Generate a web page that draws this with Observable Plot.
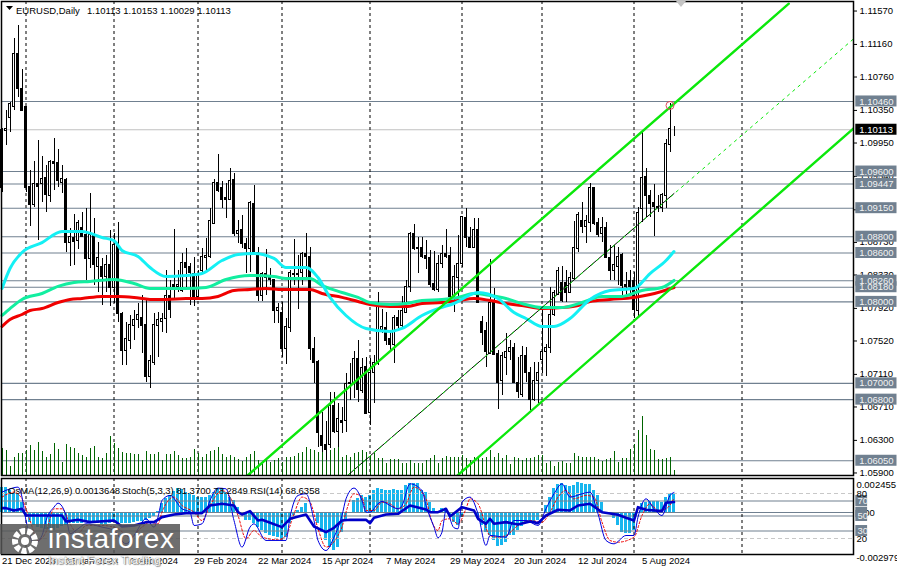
<!DOCTYPE html>
<html><head><meta charset="utf-8">
<script src="https://cdn.jsdelivr.net/npm/d3@7"></script>
<script src="https://cdn.jsdelivr.net/npm/@observablehq/plot@0.6"></script>
<style>
html,body{margin:0;padding:0;background:#fff}
#page{position:relative;width:897px;height:569px;overflow:hidden;font-family:"Liberation Sans",sans-serif;font-size:9.5px;color:#000}
#page svg{display:block;background:transparent;overflow:visible}
.t{position:absolute;white-space:pre;line-height:11px}
#wm{position:absolute;left:0;top:524px;width:180px;height:30px;background:rgba(85,85,85,.85)}
#wmt{position:absolute;left:48px;top:524px;font:28px/30px "Liberation Sans",sans-serif;color:#fff;letter-spacing:.5px}
#wms{position:absolute;left:48px;top:554px;font:11.5px/12px "Liberation Sans",sans-serif;color:#fff;text-shadow:0 0 1px #555,1px 1px 1px #888;letter-spacing:.2px}
#shift{position:absolute;left:676px;top:1px;width:0;height:0;border-left:5px solid transparent;border-right:5px solid transparent;border-top:6px solid #c4c4c4}
</style></head><body>
<div id="page"></div>
<script>
// prices are quoted in 1/10000 units (10939.2 = 1.09392)
const opens = [10939.2,11009.2,11026.3,11039.8,11104.8,11061.9,11038.6,10941.6,10919.5,10945.3,
10945.3,10951.5,10929.4,10972.3,10971,10946.5,10949,10872.8,10879,10875.3,
10891.3,10881.5,10852.1,10881.5,10843.4,10843.4,10831.1,10844.7,10816.5,10869.2,
10785.7,10740.3,10752.6,10769.8,10777.2,10780.8,10771.1,10707.2,10724.4,10769.8,
10774.7,10778.4,10806.7,10820.2,10817.7,10812.8,10848.3,10843.4,10834.8,10805.5,
10837.3,10853.3,10854.5,10896.2,10946.5,10939.2,10926.9,10925.6,10949,10883.9,
10888.8,10871.6,10864.3,10920.7,10860.6,10806.7,10834.8,10829.9,10826.3,10788.2,
10786.9,10741.6,10767.4,10833.6,10833.6,10836,10858.2,10854.5,10741.6,10725.6,
10635,10623.8,10623.8,10671.6,10639.7,10654.4,10653.2,10701,10699.8,10729.3,
10690.1,10719.5,10664.2,10712.1,10723.2,10764.9,10767.4,10753.9,10746.5,10780.8,
10769.8,10786.9,10817.7,10883.9,10866.7,10866.7,10855.8,10853.3,10821.4,10814,
10846,10858.2,10855.8,10804.2,10829.9,10847,10902.4,10879,10866.7,10888.8,
10774.7,10763.7,10736.6,10799.2,10736.6,10702.3,10731.7,10737.9,10742.8,10701,
10685.2,10733,10713.3,10679,10702.3,10728.1,10737.9,10744,10783.3,10809,
10822.6,10822.6,10811.5,10828.7,10865.5,10898.7,10892.5,10897.4,10939.2,10897.4,
10883.9,10890.1,10853.3,10838.5,10843.4,10857,10820.2,10825.1,10825.1,10789.4,
10914.6,10952.7,10929.4,10921.9,10917,10915.8,10929.4,10992,11011.3];
const highs = [11012.8,11034.9,11044.7,11123.3,11139.3,11085.3,11038.6,10961.3,10972.3,10998.1,
10978.4,10967.4,10973.5,11000.6,10987,10967.4,10951.5,10890.1,10907.3,10899.9,
10909.7,10914.6,10933,10902.4,10872.8,10853.3,10857,10887.6,10883.9,10897.4,
10786.9,10774.7,10783.3,10789.4,10798,10807.9,10803,10734.2,10785.7,10786.9,
10785.7,10838.5,10826.3,10888.8,10838.5,10859.4,10865.5,10847,10854.5,10838.5,
10865.5,10877.8,10914.6,10950.3,10981,10947.8,10945.3,10963.7,10957.6,10899.9,
10906.1,10877.8,10923.2,10942.9,10866.7,10836,10864.3,10841,10827.5,10798,
10799.2,10779.6,10838.5,10876.6,10857,10860.6,10883.9,10866.7,10756.4,10728.1,
10664.2,10653.2,10688.8,10688.8,10675.3,10670.4,10712.1,10724.4,10739.1,10752.6,
10730.6,10731.7,10730.6,10734.2,10811.5,10790.6,10786.9,10764.9,10783.3,10789.4,
10806.7,10826.3,10885.2,10895,10879,10879,10875.3,10863.1,10861.8,10857,
10869.2,10888.8,10866.7,10844.7,10881.5,10904.8,10914.6,10891.3,10902.4,10902.4,
10782.1,10774.7,10852.1,10816.5,10740.3,10737.9,10761.2,10752.6,10748.9,10731.7,
10745.2,10744,10719.5,10725.6,10725.6,10793.1,10747.7,10817.7,10814,10842.2,
10843.4,10838.5,10836,10898.7,10909.7,10921.9,10906.1,10945.3,10940.4,10902.4,
10903.6,10897.4,10869.2,10869.2,10866.7,10859.4,10836,10838.5,10836,10915.8,
11007.9,10963.7,10936.7,10944.1,10930.6,10933,10999.3,11043.5,11015.3];
const lows = [10934.2,10992,11007.9,11034.9,11050.8,11033.7,10934.2,10892.5,10915.8,10875.3,
10921.9,10909.7,10921.9,10936.7,10940.4,10933,10860.6,10843.4,10844.7,10864.3,
10879,10826.3,10841,10820.2,10811.5,10795.6,10811.5,10794.3,10798,10774.7,
10722,10722,10741.6,10752.6,10767.4,10736.6,10701,10693.7,10722,10731.7,
10762.4,10761.2,10779.6,10801.7,10811.5,10811.5,10814,10795.6,10794.3,10801.7,
10836,10836,10853.3,10896.2,10934.2,10914.6,10902.4,10925.6,10880.2,10871.6,
10865.5,10834.8,10836,10860.6,10800.5,10800.5,10807.9,10820.2,10773.5,10773.5,
10731.7,10723.2,10762.4,10820.2,10790.6,10820.2,10828.7,10728.1,10699.8,10621.3,
10615.1,10605.3,10620,10638.5,10621.3,10638.5,10639.7,10679,10681.4,10676.5,
10687.6,10663,10648.3,10675.3,10722,10761.2,10746.5,10740.3,10724.4,10764.9,
10767.4,10785.7,10811.5,10863.1,10834.8,10853.3,10839.7,10817.7,10812.8,10811.5,
10841,10853.3,10801.7,10786.9,10804.2,10842.2,10866.7,10866.7,10865.5,10798,
10746.5,10719.5,10735.4,10734.2,10667.9,10685.2,10709.7,10728.1,10699.8,10681.4,
10682.6,10701,10666.7,10677.8,10675.3,10712.1,10708.4,10736.6,10782.1,10807.9,
10799.2,10799.2,10810.3,10827.5,10860.6,10883.9,10871.6,10885.2,10893.8,10879,
10872.8,10853.3,10826.3,10826.3,10820.2,10807.9,10805.5,10810.3,10779.6,10780.8,
10897.4,10903.6,10903.6,10880.2,10909.7,10909.7,10914.6,10983.4,11002.9];
const closes = [11010.4,11011.6,11042.3,11104.8,11060.7,11034.9,10939.2,10919.5,10944.1,10940.4,
10950.3,10930.6,10972.3,10969.8,10947.8,10950.3,10872.8,10880.2,10874.1,10897.4,
10880.2,10852.1,10881.5,10844.7,10853.3,10831.1,10844.7,10816.5,10870.4,10785.7,
10740.3,10753.9,10771.1,10777.2,10784.5,10769.8,10707.2,10726.9,10771.1,10777.2,
10778.4,10806.7,10790.6,10816.5,10820.2,10848.3,10842.2,10836,10805.5,10832.4,
10854.5,10855.8,10898.7,10946.5,10935.5,10925.6,10925.6,10947.8,10883.9,10887.6,
10871.6,10864.3,10921.9,10860.6,10806.7,10834.8,10829.9,10826.3,10788.2,10793.1,
10741.6,10768.6,10836,10834.8,10834.8,10858.2,10854.5,10741.6,10724.4,10638.5,
10622.5,10617.6,10671.6,10639.7,10655.7,10651.9,10699.8,10699.8,10729.3,10691.3,
10718.3,10663,10712.1,10724.4,10794.3,10768.6,10752.6,10746.5,10780.8,10769.8,
10789.4,10817.7,10883.9,10865.5,10865.5,10854.5,10852.1,10820.2,10814,10846,
10858.2,10854.5,10805.5,10831.1,10847,10903.6,10879,10866.7,10888.8,10799.2,
10762.4,10737.9,10799.2,10735.4,10701,10733,10739.1,10742.8,10701,10688.8,
10733,10712.1,10679,10703.5,10713.3,10737.9,10744,10784.5,10810.3,10838.5,
10800.5,10811.5,10829.9,10866.7,10906.1,10892.5,10898.7,10939.2,10896.2,10881.5,
10890.1,10853.3,10838.5,10844.7,10854.5,10819,10817.7,10817.7,10790.6,10909.7,
10951.5,10929.4,10920.7,10917,10915.8,10930.6,10993.2,11011.6,11011.3];
const volumes = [27,25,9,18,22,22,25,30,25,33,24,18,21,32,26,13,31,28,27,22,20,18,27,29,18,17,22,39,32,27,
23,22,22,21,21,15,24,21,21,23,15,21,21,24,20,17,17,18,26,22,18,21,24,25,28,21,18,20,18,16,
14,18,21,24,15,13,15,13,15,17,13,18,18,19,22,23,28,26,25,23,27,27,25,27,32,
18,20,18,22,23,25,23,20,22,17,17,12,16,16,16,12,12,15,12,12,12,15,17,20,12,17,19,18,18,18,
20,17,15,18,18,17,18,25,18,22,17,20,11,18,17,15,17,17,18,20,20,12,14,9,13,14,12,12,22,19,
18,18,18,18,16,14,16,17,24,13,17,17,26,31,45,59,40,26,25,16,16,17,18,5];

const redBars = [0,2,5,7,10,14,17,20,25,29,33,37,41,46,50,54,58,62,66,70,72,77,80,85,89,92,97,101,105,110,114,118,122,126,130,135,140,144,147,152,158,162,168];
const redMA = [10769.8,10778.4,10784.5,10789.4,10791.8,10799.2,10803,10804.2,10806.7,10806.7,10805.5,10803,10803,10804.2,10804.2,10806.7,10814,10815.2,10816.5,10815.2,10815.2,10815.2,10810.3,10805.5,10800.5,10796.8,10794.3,10794.3,10798,10799.2,10801.7,10804.2,10801.7,10798,10795.6,10791.8,10793.1,10795.6,10800.5,10803,10805.5,10809,10817.7];
const tealBars = [0,2,5,10,14,18,22,28,33,37,41,46,51,56,62,68,71,75,77,80,85,89,92,97,101,105,110,114,118,122,126,130,135,140,145,150,155,160,165,168];
const tealMA = [10783.3,10791.8,10803,10810.3,10819,10823.8,10825.1,10827.5,10822.6,10816.5,10816.5,10816.5,10817.7,10827.5,10832.4,10831.1,10828.7,10828.7,10828.7,10820.2,10811.5,10805.5,10799.2,10796.8,10798,10801.7,10803,10805.5,10810.3,10807.9,10804.2,10798,10793.1,10793.1,10799.2,10806.7,10806.7,10814,10817.7,10826.3];
const cyanBars = [0,2,5,10,15,20,25,28,30,34,37,41,46,50,55,59,63,68,71,75,76,79,82,86,91,97,100,105,109,113,119,124,128,131,135,138,142,147,152,158,162,166,168];
const cyanMA = [10816.5,10841,10860.6,10872.8,10886.4,10886.4,10879,10875.3,10863.1,10855.8,10842.2,10831.1,10832.4,10834.8,10850.8,10858.2,10859.4,10853.3,10842.2,10842.2,10842.2,10829.9,10805.5,10783.3,10767.4,10763.7,10767.4,10783.3,10791.8,10798,10811.5,10804.2,10786.9,10779.6,10769.8,10769.8,10779.6,10803,10814,10816.5,10834.8,10850.8,10861.8];

const levels = [11046,10960,10944.7,10915,10880,10860,10826,10818,10800,10700,10680,10605];
const lastPrice = 11011.3;
const priceTicks = [11157,11116,11076,11035,10995,10954,10913,10873,10833,10792,10752,10711,10671,10630,10590];
const periodBars = [6,28,49,70,92,115,135,158,185];

// channel: [bar, price] anchor values
const channelUpperBar = [61.4,196.7], channelUpperPrice = [10587,11166];
const channelLowerBar = [113.9,212.9], channelLowerPrice = [10587,11013];
const channelMidBar = [86.4,212.7], channelMidPrice = [10587,11122];
const channelMidSolidBar = [86.4,168], channelMidSolidPrice = [10587,10933];

// oscillators
const macd = [18.1,18.1,15.7,13.3,13.3,7.4,-1.4,-6.9,-9.3,-11,-11.7,-12.4,-12.4,-12.9,-11.7,-10,-9.3,-8.1,-8.1,-7.6,-7.6,-6.9,-6.9,-7.6,-8.1,-8.6,-8.6,-8.1,-6.9,-7.6,-8.1,-8.1,-7.6,-6.9,-6.4,-6.2,-5.7,-4.5,-2.9,
1,6.2,9.8,12.2,15.3,16.9,16.2,14.5,13.3,12.2,11,10.5,10.5,12.2,14.5,16.9,16.2,14.5,10.5,8.6,3.8,-.5,-5.7,-5.7,-8.1,-11,-12.9,-14.8,-16.4,-17.2,-18.1,-19.5,-17.6,-8.1,-2.1,1.4,3.8,6.2,.2,-.5,-8.1,-14.1,-20,-24.8,-27.2,-24.8,
-14.1,-5.7,.2,8.6,9.8,12.2,11,12.2,15.7,17.4,16.4,15.7,15.7,16.2,15.7,15.7,19.3,20.5,20.5,20.5,
15.7,14.5,7.4,2.6,.2,2.6,2.6,-2.1,-6.9,-9.3,-3.3,.2,.2,.2,-4.5,-9.3,-14.1,-16.4,-20,-24.3,
-23.6,-21.2,-16.4,-16.4,-12.9,-10,-8.1,-8.1,-6.9,-5.7,.2,5,11,16.9,20,20.5,19.3,18.8,19.3,21.2,
20.5,19.8,19.8,15.7,12.2,7.4,.2,-1.4,-4.5,-9.3,-14.1,-14.8,-15.3,-12.9,-1,6.2,7.4,8.1,8.1,8.1,7.4,11,13.3,13.6];
const rsiBars = [0,1,3,5,6,7,10,15,16,19,22,28,30,33,36,38,40,43,46,50,52,55,58,59,60,62,64,65,70,72,76,78,81,83,85,87,91,92,93,96,99,102,106,107,109,111,112,115,118,119,121,122,123,126,129,132,134,136,139,142,144,147,150,154,156,158,159,161,165,166,168];
const rsi = [60.5,60.5,57.4,59.6,50.7,50.7,50.7,50.7,42.7,44.9,41.8,44,36,37.4,41.8,41.8,48.5,52,53.8,53.8,64,66.3,64,55.1,52,56.5,44,44.9,35.2,46.3,52,36,28.5,34.3,44,44.9,44.9,40.5,47.6,52,52.9,64,58.7,55.1,55.1,59.6,49.4,61.8,57.4,46.3,39.6,46.3,39.6,41.8,38.7,42.7,40.5,50.7,58.3,57.4,64,66.3,55.1,51.6,47.6,44,61.8,58.3,56.5,67.6,68.6];
const stochBars = [0,2,4,5,6,7,8,10,11,13,14,16,17,19,21,25,28,31,33,36,38,39,40,42,45,47,48,50,52,54,56,58,60,62,63,66,69,71,72,74,76,78,79,81,83,85,86,88,90,91,92,94,95,97,99,100,102,105,106,108,109,110,111,113,114,115,117,119,121,122,126,128,131,134,136,138,140,142,145,147,149,151,153,156,158,159,161,163,165,167,168];
const stoch = [81.8,86.2,88.5,75.2,44,24,12.9,24,44,61.8,67.1,50.7,26.3,32.9,39.6,35.2,30.7,12.9,24,46.3,35.2,48.5,70.7,77.4,59.6,55.1,37.4,39.6,70.7,87.2,86.2,44,8.5,35.2,39.6,17.4,17.4,17.4,48.5,77.4,79.6,44,17.4,4,21.8,50.7,72.9,87.2,70.7,55.1,55.1,66.3,69.4,64,59.6,64,92.9,84,64,35.2,21,28.5,57.4,34.3,32.9,68.5,75.2,52.9,10.7,24,21.8,44,44,37.4,59.6,79.6,92.9,75.2,79.6,81.8,52.9,17.4,12.9,24,24,48.5,72.9,59.6,50.7,77.4,81.37];
const signalBars = [0,3,5,7,9,11,13,15,17,19,21,25,29,32,35,37,39,40,43,45,48,50,52,55,57,59,61,63,65,69,71,73,75,77,79,81,84,85,86,88,90,91,93,95,97,99,101,103,106,107,109,110,112,114,116,117,119,122,124,126,129,132,135,137,139,141,143,146,148,150,152,154,158,160,162,164,166,168];
const signal = [75.2,81.8,72.9,44,17.4,28.5,59.6,59.6,39.6,26.3,37.4,37.4,32.9,21.8,35.2,41.8,39.6,55.1,75.2,64,55.1,44,64,84,75.2,50.7,19.6,30.7,21.8,18.3,24,52.9,75.2,68.5,32.9,8.5,24,35.2,55.1,79.6,75.2,57.4,57.4,68.5,66.3,59.6,66.3,88.5,72.9,50.7,30.7,44,46.3,39.6,59.6,72.9,66.3,24,21.8,24,37.4,44,41.8,55.1,75.2,84,72.9,77.4,75.2,41.8,17.4,15.1,21.8,50.7,66.3,57.4,59.6,73.28];
const oscLevels = [70,50,30];
const oscDashed = [80,20];
const dateBars = [0,16,32,48,64,80,96,112,128,144,160];
const dateLabels = ["21 Dec 2023","16 Jan 2024","7 Feb 2024","29 Feb 2024","22 Mar 2024","15 Apr 2024","7 May 2024","29 May 2024","20 Jun 2024","12 Jul 2024","5 Aug 2024"];

const FONT = '"Liberation Sans",sans-serif';
const bars = d3.range(opens.length);
const px = v => v / 10000;
const pipPerPx = 1.2273;          // price span of one pixel, used for volume and tag heights
const xDomain = [-0.125, 212.875];
const tagX1 = 213.45, tagX2 = 223.75;
const SLATE = "#708090";
const LIME = "#0be80b";

const series = (xs, ys, f = px) => xs.map((b, i) => ({b, v: f(ys[i])}));
const levelTag = (vals, fill, color) => [
  Plot.rect(vals, {x1: () => tagX1, x2: () => tagX2, y1: d => px(d - 5.5 * pipPerPx), y2: d => px(d + 5.5 * pipPerPx), fill, inset: 0}),
  Plot.text(vals, {x: () => tagX1, y: d => px(d), text: d => (d / 10000).toFixed(5), fill: color, textAnchor: "start", dx: 3.5, fontSize: 9.5})
];

const main = Plot.plot({
  width: 897, height: 476, marginLeft: 1, marginRight: 44, marginTop: 1, marginBottom: 1,
  style: {fontFamily: FONT, fontSize: "9.5px", background: "transparent", color: "#000"},
  x: {domain: xDomain, axis: null},
  y: {domain: [1.05869, 1.11687], axis: null},
  marks: [
    Plot.ruleY(levels, {y: d => px(d), stroke: SLATE, strokeWidth: 1.1}),
    Plot.ruleY([lastPrice], {y: d => px(d), stroke: "#c0c0c0", strokeWidth: 1.1}),
    Plot.ruleX(periodBars, {x: d => d, stroke: "#000", strokeWidth: 1, strokeDasharray: "3,3"}),
    // tick volume, standing on the pane floor
    Plot.ruleX(bars, {x: i => i, y1: () => 1.05869, y2: i => 1.05869 + px(volumes[i] * pipPerPx), stroke: "#006400", strokeWidth: 1, shapeRendering: "crispEdges"}),
    // candles
    Plot.ruleX(bars, {x: i => i, y1: i => px(lows[i]), y2: i => px(highs[i]), stroke: "#000", strokeWidth: 1, shapeRendering: "crispEdges"}),
    Plot.rect(bars, {x1: i => i - .25, x2: i => i + .25, y1: i => px(opens[i]), y2: i => px(closes[i]),
      fill: i => closes[i] >= opens[i] ? "#fff" : "#000", stroke: "#000", strokeWidth: 1, shapeRendering: "crispEdges"}),
    // moving averages
    Plot.line(series(redBars, redMA), {x: "b", y: "v", stroke: "#f00000", strokeWidth: 3, curve: "monotone-x"}),
    Plot.line(series(tealBars, tealMA), {x: "b", y: "v", stroke: "#12eea0", strokeWidth: 3, curve: "monotone-x"}),
    Plot.line(series(cyanBars, cyanMA), {x: "b", y: "v", stroke: "#14f0f4", strokeWidth: 3, curve: "monotone-x"}),
    // channel
    Plot.line(series(channelMidSolidBar, channelMidSolidPrice), {x: "b", y: "v", stroke: "#000", strokeWidth: 1, clip: true}),
    Plot.line(series(channelMidBar, channelMidPrice), {x: "b", y: "v", stroke: LIME, strokeWidth: 1, strokeDasharray: "2.5,4.5", clip: true}),
    Plot.line(series(channelUpperBar, channelUpperPrice), {x: "b", y: "v", stroke: LIME, strokeWidth: 2.4, clip: true}),
    Plot.line(series(channelLowerBar, channelLowerPrice), {x: "b", y: "v", stroke: LIME, strokeWidth: 2.4, clip: true}),
    Plot.dot([167], {x: i => i, y: () => 1.10411, r: 4, stroke: "#e04a5a", strokeWidth: 1, fill: "none"}),
    Plot.frame({stroke: "#000", strokeWidth: 1.5}),
    Plot.axisY({anchor: "right", ticks: priceTicks.map(px), tickFormat: d3.format(".5f"), tickSize: 3, tickPadding: 3, fontSize: 9.5, label: null, fontVariant: "normal"}),
    ...levelTag(levels, SLATE, "#f2f2f2"),
    ...levelTag([lastPrice], "#000", "#fff")
  ]
});

// histogram values are MACD units scaled onto the 0..100 oscillator axis
const oscZero = 54.7, oscPerMacd = 18648;
const macdY = m => oscZero + m * 1e-4 * oscPerMacd;
const sideTags = [70, 50, 30];

const lower = Plot.plot({
  width: 897, height: 93, marginLeft: 1, marginRight: 44, marginTop: 2, marginBottom: 15,
  style: {fontFamily: FONT, fontSize: "9.5px", background: "transparent", color: "#000"},
  x: {domain: xDomain, axis: null},
  y: {domain: [-1.33, 100], axis: null},
  marks: [
    Plot.rect(bars, {x1: i => i - .375, x2: i => i + .375, y1: () => oscZero, y2: i => macdY(macd[i]), fill: "#18b6ee", shapeRendering: "crispEdges"}),
    Plot.ruleY(oscDashed, {stroke: "#c8c8c8", strokeWidth: 1.1, strokeDasharray: "4,3"}),
    Plot.ruleY([oscZero], {stroke: SLATE, strokeWidth: 1.1}),
    Plot.ruleY(oscLevels, {stroke: SLATE, strokeWidth: 1.1}),
    Plot.ruleX(periodBars, {x: d => d, stroke: "#000", strokeWidth: 1, strokeDasharray: "3,3"}),
    Plot.line(series(signalBars, signal, v => v), {x: "b", y: "v", stroke: "#f00000", strokeWidth: 1, strokeDasharray: "2,2", curve: "monotone-x"}),
    Plot.line(series(stochBars, stoch, v => v), {x: "b", y: "v", stroke: "#0000e0", strokeWidth: 1, curve: "monotone-x"}),
    Plot.line(series(rsiBars, rsi, v => v), {x: "b", y: "v", stroke: "#0000c8", strokeWidth: 2.6}),
    Plot.frame({stroke: "#000", strokeWidth: 1.5}),
    Plot.text(["OsMA(12,26,9) 0.0013648","Stoch(5,3,3) 81.3700 73.2849","RSI(14) 68.6358"], {x: [1.5, 30, 62], frameAnchor: "top", dy: 9, textAnchor: "start", fill: "#000"}),
    Plot.rect([oscZero], {x1: () => tagX1, x2: () => 216.4, y1: d => d - 7, y2: d => d + 7, fill: SLATE}),
    Plot.text(["0.00"], {x: () => 213.6, y: () => oscZero, textAnchor: "start", fill: "#000"}),
    Plot.rect(sideTags, {x1: () => tagX1, x2: () => 216.4, y1: d => d - 7.3, y2: d => d + 7.3, fill: SLATE}),
    Plot.text(sideTags, {x: () => 213.85, y: d => d, text: d => String(d), textAnchor: "start", fill: "#f2f2f2"}),
    Plot.text(oscDashed, {x: () => 213.6, y: d => d, text: d => String(d), textAnchor: "start", fill: "#000"}),
    Plot.text(["0.002455","-0.002979"], {x: () => 213.6, y: [92, -6], textAnchor: "start", fill: "#000"}),
    Plot.text(dateBars, {x: d => d, text: (d, i) => dateLabels[i], frameAnchor: "bottom", dy: 9, textAnchor: "start", fill: "#000"})
  ]
});

const page = document.getElementById("page");
page.append(main, lower);
page.insertAdjacentHTML("beforeend", `
  <div class="t" style="left:5px;top:5px"><svg width="9" height="6" style="vertical-align:1px"><path d="M1 1h7L4.5 5z" fill="#000"/></svg> <span style="position:absolute;left:11px;top:0">EURUSD,Daily</span><span style="position:absolute;left:82px;top:0">1.10113 1.10153 1.10029 1.10113</span></div>
  <div id="shift"></div>
  <div id="wm"></div>
  <svg style="position:absolute;left:6px;top:524px" width="38" height="34" viewBox="0 0 38 34"><circle cx="19" cy="17" r="10" fill="none" stroke="#fff" stroke-width="6" stroke-dasharray="5,2"/><circle cx="19" cy="17" r="4" fill="#fff"/></svg>
  <div id="wmt">instaforex</div>
  <div id="wms">Instant Forex Trading</div>`);
</script>
</body></html>
